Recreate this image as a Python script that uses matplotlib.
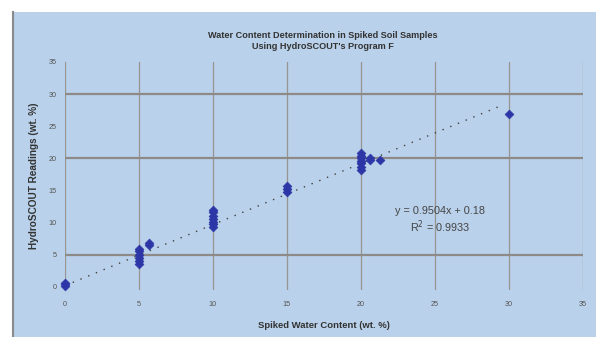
import numpy as np
import matplotlib
matplotlib.use("Agg")
import matplotlib.pyplot as plt
from matplotlib.patches import Rectangle

plt.rcParams["font.family"] = ["Liberation Sans", "DejaVu Sans"]

# spiked water content (wt. %) vs HydroSCOUT readings (wt. %)
spiked = [0, 0, 0,
          5, 5, 5, 5, 5, 5,
          5.7, 5.7,
          10, 10, 10, 10, 10, 10, 10,
          15, 15, 15,
          20, 20, 20, 20, 20, 20, 20,
          20.6, 20.6, 21.3,
          30]
readings = [0.2, 0.4, 0.6,
            3.5, 4.0, 4.5, 5.0, 5.5, 5.9,
            6.5, 6.8,
            9.3, 9.7, 10.1, 10.5, 11.0, 11.6, 12.0,
            14.7, 15.2, 15.7,
            18.2, 18.7, 19.2, 19.6, 20.0, 20.4, 20.8,
            19.7, 20.1, 19.7,
            26.9]

slope = 0.9504
intercept = 0.18
r2 = 0.9933
trend_x = [0, 29.6]

title = "Water Content Determination in Spiked Soil Samples\nUsing HydroSCOUT's Program F"
xlabel = "Spiked Water Content (wt. %)"
ylabel = "HydroSCOUT Readings (wt. %)"
ticks = [0, 5, 10, 15, 20, 25, 30, 35]
hlines = [5, 20, 30]

bg = "#b9d1ea"
grid_c = "#8e8a88"
pt_c = "#2c36a6"

fig = plt.figure(figsize=(5.96, 3.37), dpi=100)
fig.patch.set_facecolor("white")
fig.patches.append(Rectangle((12.5 / 596, 0), 1, 1 - 11.7 / 337,
                             transform=fig.transFigure, facecolor=bg,
                             edgecolor="none", zorder=-2))
fig.lines.append(plt.Line2D([12.5 / 596, 12.5 / 596], [0, 1 - 11.7 / 337],
                            transform=fig.transFigure, color="#8a8a8a", lw=1.5))

ax = fig.add_axes([65 / 596, 47 / 337, 517.7 / 596, 228 / 337])
ax.set_facecolor("none")
ax.set_xlim(0, 35)
ax.set_ylim(-0.5, 35)
for s in ax.spines.values():
    s.set_visible(False)

for t in ticks:
    ax.axvline(t, color="#979491", lw=0.9, zorder=1)
for h in hlines:
    ax.axhline(h, color=grid_c, lw=1.6, zorder=1)

tx = np.array(trend_x)
ax.plot(tx, slope * tx + intercept, color="#404040", lw=1.0,
        linestyle=(0, (1, 5)), zorder=2)
ax.scatter(spiked, readings, marker="D", s=20, color=pt_c, edgecolors=pt_c,
           linewidths=0.5, zorder=3, clip_on=False)

ax.set_xticks(ticks)
ax.set_yticks(ticks)
ax.tick_params(length=0, labelsize=5.2, labelcolor="#555555", pad=8)
ax.tick_params(axis="y", pad=6)
ax.set_xlabel(xlabel, fontsize=6.8, fontweight="bold", color="#333333", labelpad=9)
ax.set_ylabel(ylabel, fontsize=7.2, fontweight="bold", color="#333333", labelpad=7)

ax.text(25.35, 11.8, f"y = {slope:.4f}x + {intercept:.2f}", fontsize=7.8,
        color="#444444", ha="center", va="center")
ax.text(25.35, 9.4, f"R$^2$ = {r2:.4f}", fontsize=7.8,
        color="#444444", ha="center", va="center")

fig.text(323 / 596, 1 - 41 / 337, title, fontsize=6.6, fontweight="bold",
         color="#333333", ha="center", va="center", linespacing=1.4)

fig.savefig("out.png", dpi=100, facecolor=fig.get_facecolor())
